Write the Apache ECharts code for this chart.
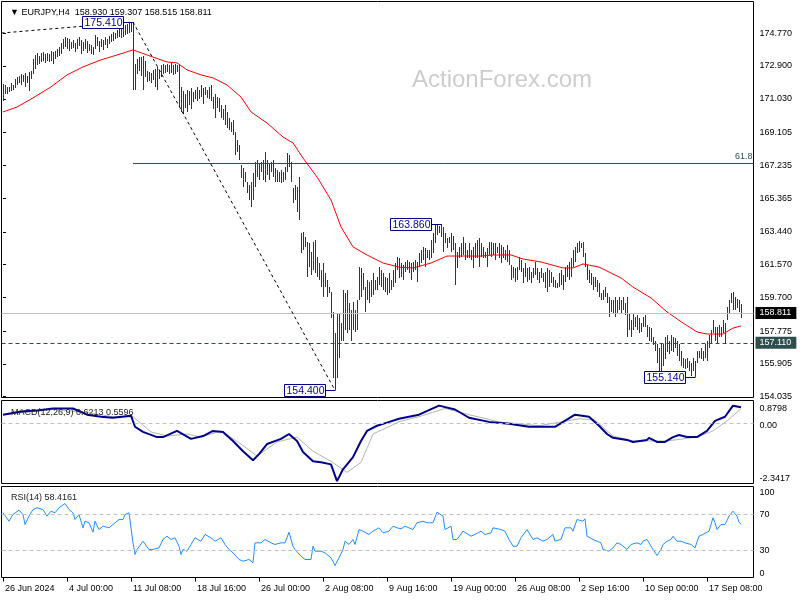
<!DOCTYPE html>
<html><head><meta charset="utf-8">
<script src="https://cdn.jsdelivr.net/npm/echarts@6/dist/echarts.min.js"></script>
<style>html,body{margin:0;padding:0;background:#fff}#c{width:800px;height:600px}</style>
</head><body><div id="c"></div>
<script>
// ---------------- DATA ----------------
const highs = [
171.85,171.79,171.68,171.73,171.91,171.79,172.14,172.25,172.31,172.42,
172.37,172.48,172.31,172.54,172.60,173.28,173.51,173.62,173.45,173.62,
173.68,173.57,173.62,173.57,173.74,173.68,173.74,173.85,173.97,174.20,
174.43,174.54,174.48,174.43,174.26,174.37,174.20,174.43,174.54,174.37,
174.26,174.43,174.31,174.14,174.08,173.97,174.66,174.54,174.31,174.43,
174.37,174.54,174.43,174.60,174.71,174.83,174.77,174.94,175.00,175.11,
175.17,175.23,175.29,175.34,175.40,175.41,172.99,173.28,173.40,173.40,
173.45,173.17,172.60,172.54,172.48,172.65,172.71,172.83,172.65,172.94,
172.99,172.94,172.99,172.94,173.05,172.94,172.99,172.94,172.99,171.68,
171.45,171.28,171.56,171.45,171.62,171.39,171.56,171.68,171.56,171.79,
171.62,171.68,171.56,171.73,171.79,171.11,171.28,171.16,171.05,170.65,
170.42,170.65,170.25,169.96,169.73,169.84,169.16,168.70,168.41,167.27,
167.10,166.87,166.29,166.12,166.29,166.81,167.44,167.55,167.38,167.44,
167.55,168.01,167.55,167.38,167.44,167.55,167.10,166.98,166.87,166.98,
166.87,167.15,167.96,167.84,167.44,165.95,166.12,166.01,166.58,163.37,
163.43,163.14,162.86,162.80,162.29,162.86,162.97,161.99,161.65,161.25,
161.65,161.08,160.68,160.28,159.99,158.85,157.65,158.79,158.79,158.22,
160.11,159.93,160.11,159.36,158.96,159.42,158.96,159.53,161.42,161.37,
161.08,160.28,160.68,160.57,160.68,161.08,160.68,160.85,161.42,161.25,
161.08,160.85,160.79,161.08,160.68,161.25,161.65,161.99,161.94,161.65,
161.54,161.71,161.82,161.71,161.65,161.71,161.82,161.71,162.23,162.40,
162.57,162.51,162.40,162.40,162.97,163.37,163.83,163.83,163.77,163.86,
163.72,163.37,163.08,163.14,163.37,163.20,162.80,162.29,162.57,162.80,
163.14,162.80,162.40,162.80,162.40,162.57,162.80,162.97,163.08,162.80,
162.57,162.29,162.51,162.86,162.86,162.80,162.80,162.57,162.80,162.69,
162.57,162.40,162.69,162.40,161.54,161.42,161.37,161.42,161.99,161.82,
161.37,161.65,161.37,161.42,161.14,161.37,161.71,161.37,161.14,161.37,
161.08,161.14,161.37,161.25,161.14,160.85,160.68,160.51,161.08,161.25,
160.97,161.42,161.54,161.71,161.94,162.40,162.57,162.80,162.91,162.80,
162.86,162.23,161.54,161.25,161.08,160.85,160.85,160.68,160.51,159.93,
160.11,160.28,159.93,159.70,159.53,159.53,159.70,159.53,159.70,159.53,
159.70,159.36,159.70,158.79,158.39,158.79,158.56,158.68,158.50,158.22,
158.56,158.68,158.10,157.99,157.93,157.42,157.24,157.07,156.84,157.07,
157.07,157.42,157.53,157.24,157.53,157.42,157.36,157.24,157.07,156.67,
156.27,156.21,156.27,156.10,155.93,156.27,156.10,156.67,156.67,156.84,
156.67,157.07,157.24,157.53,157.82,158.39,157.99,157.99,158.10,157.99,
158.39,158.22,159.13,159.53,159.93,159.99,159.70,159.59,159.53,159.31
];
const lows = [
170.88,171.33,171.28,171.39,171.45,171.51,171.62,171.79,171.91,171.79,
171.96,171.68,171.91,171.45,172.14,172.42,172.71,172.94,172.99,173.11,
173.17,173.05,173.17,173.11,173.17,172.99,173.28,173.40,173.45,173.57,
173.85,173.97,173.85,173.74,173.85,173.91,173.68,173.85,174.03,173.57,
173.74,173.85,173.62,173.74,173.57,173.51,173.85,174.03,173.68,173.97,
173.80,174.08,173.91,174.14,174.26,174.31,174.43,174.48,174.54,174.48,
174.54,174.66,174.71,174.77,174.83,171.56,171.56,172.42,172.60,172.31,
171.56,172.25,171.96,172.02,171.91,172.08,171.68,171.56,172.14,172.25,
172.42,172.48,172.54,172.42,172.48,172.37,172.42,172.54,170.59,170.30,
170.19,170.53,170.30,170.65,170.42,170.82,170.99,170.88,170.99,171.11,
170.76,171.22,171.05,170.99,170.88,170.42,169.96,170.53,170.30,169.96,
169.84,169.56,169.39,169.27,169.16,168.99,167.84,168.01,167.55,166.52,
166.01,166.29,165.66,165.26,164.86,165.26,166.01,166.58,166.41,166.87,
166.41,166.29,166.69,166.41,166.87,166.58,166.29,166.29,166.29,166.23,
166.29,166.41,166.87,167.15,166.29,165.09,165.26,164.58,164.12,162.23,
162.40,162.57,160.85,161.42,160.97,161.25,161.08,160.85,160.68,160.28,
159.70,160.28,159.70,159.93,158.50,155.12,154.40,155.12,156.27,157.24,
157.24,157.82,157.65,157.82,157.24,157.82,157.70,157.82,159.53,159.70,
160.11,158.85,159.53,159.36,159.70,159.82,160.11,160.11,160.39,160.28,
160.11,159.99,159.82,159.93,160.11,160.28,160.51,161.25,160.79,160.85,
160.68,161.14,161.25,161.08,160.68,161.14,161.25,160.57,161.42,161.65,
161.82,161.42,161.94,161.82,161.94,162.23,162.80,163.26,163.37,163.14,
162.29,162.80,162.51,162.80,162.29,162.40,160.39,161.37,161.94,161.99,
162.11,161.82,161.94,161.94,161.82,161.37,161.94,161.94,161.42,161.99,
161.94,161.94,161.42,162.11,161.99,162.11,161.82,162.23,161.94,161.65,
161.94,161.82,161.71,161.54,160.68,160.79,160.57,160.68,161.25,161.14,
160.51,160.85,160.57,160.68,160.51,160.79,160.97,160.68,160.51,160.79,
160.57,160.22,159.99,160.28,160.51,160.28,160.22,160.22,160.28,160.39,
160.11,160.57,160.85,160.68,160.85,161.42,161.71,162.23,162.29,162.51,
161.99,161.42,160.68,160.51,160.39,160.11,160.28,159.99,159.70,159.53,
159.53,159.70,159.36,158.56,158.85,158.79,158.56,158.79,158.96,158.79,
158.96,158.68,157.42,157.82,157.42,157.82,157.99,157.82,157.65,157.70,
157.99,157.99,157.42,157.24,157.13,156.96,156.67,155.98,155.52,155.41,
155.81,156.21,156.56,156.50,156.67,156.56,156.84,156.38,156.10,155.81,
155.70,155.64,155.70,155.52,155.24,155.52,155.14,155.98,156.27,156.21,
156.10,156.27,156.10,156.79,157.07,157.65,157.24,157.07,157.42,157.42,
157.65,157.07,158.39,158.79,159.36,158.96,158.96,159.08,158.85,158.52
];
const smaPoints = [[0,170.28],[7,170.56],[15,171.08],[24,171.71],[32,172.39],[40,172.85],[49,173.25],[57,173.53],[65,173.82],[72,173.53],[82,173.13],[87,173.08],[92,172.68],[99,172.39],[105,172.22],[112,171.82],[119,171.13],[124,170.28],[132,169.65],[140,168.85],[145,168.51],[150,167.65],[157,166.57],[164,165.26],[169,163.72],[175,162.58],[182,162.12],[190,161.66],[198,161.43],[205,161.38],[214,161.66],[222,162.06],[230,162.06],[239,162.06],[245,162.12],[254,162.12],[260,161.89],[269,161.72],[280,161.38],[285,161.38],[290,161.61],[298,161.43],[309,160.81],[315,160.29],[324,159.67],[332,158.87],[340,158.24],[347,157.73],[352,157.61],[360,157.61],[365,157.95],[369,158.07]];
const macdPoints = [[0,0.33],[9,0.45],[17,0.49],[25,0.57],[35,0.57],[42,0.33],[49,0.25],[55,0.21],[64,0.29],[66,-0.14],[70,-0.34],[77,-0.54],[80,-0.54],[87,-0.30],[94,-0.61],[100,-0.50],[105,-0.30],[110,-0.34],[115,-0.69],[120,-1.09],[125,-1.44],[128,-1.20],[132,-0.81],[139,-0.61],[143,-0.42],[147,-0.69],[150,-1.12],[155,-1.48],[159,-1.52],[164,-1.60],[167,-2.25],[170,-1.79],[175,-1.32],[179,-0.69],[182,-0.30],[187,-0.10],[192,0.02],[198,0.17],[208,0.33],[218,0.68],[226,0.53],[233,0.21],[243,0.05],[253,-0.02],[263,-0.14],[276,-0.14],[286,0.33],[293,0.25],[298,-0.10],[302,-0.42],[305,-0.57],[312,-0.65],[315,-0.73],[322,-0.65],[323,-0.57],[327,-0.73],[331,-0.73],[335,-0.54],[338,-0.46],[342,-0.54],[347,-0.54],[352,-0.30],[356,0.09],[361,0.25],[365,0.68],[369,0.62]];
const signalPoints = [[0,0.33],[25,0.53],[42,0.41],[55,0.25],[65,0.25],[74,-0.34],[82,-0.50],[92,-0.42],[99,-0.54],[109,-0.30],[119,-0.81],[127,-1.28],[137,-0.73],[147,-0.54],[155,-1.09],[164,-1.48],[172,-1.91],[179,-1.52],[185,-0.42],[194,-0.10],[198,0.06],[208,0.25],[221,0.57],[233,0.33],[248,0.05],[268,-0.10],[288,0.17],[296,0.13],[298,-0.02],[305,-0.50],[315,-0.69],[332,-0.69],[347,-0.54],[355,-0.30],[362,0.09],[369,0.56]];
const rsiPoints = [[0,71.1],[3,61.9],[5,69.2],[8,74.0],[10,69.2],[11,58.2],[13,67.4],[15,74.7],[17,76.6],[20,74.7],[22,67.4],[24,72.9],[26,71.1],[28,76.6],[31,81.3],[33,74.7],[35,71.1],[36,63.7],[38,69.2],[40,54.6],[41,61.9],[43,60.1],[45,49.8],[46,61.9],[48,52.7],[50,56.4],[53,54.6],[55,58.2],[58,63.7],[60,63.7],[61,69.2],[63,71.1],[64,71.1],[65,38.1],[66,25.3],[67,30.8],[70,39.9],[73,30.8],[75,30.8],[78,32.6],[80,41.8],[82,45.4],[84,41.8],[86,43.6],[88,34.4],[89,25.3],[90,30.8],[92,28.9],[94,36.3],[96,43.6],[99,39.9],[101,47.3],[104,43.6],[106,39.9],[109,43.6],[111,36.3],[113,30.8],[115,27.1],[118,19.8],[120,17.9],[123,19.8],[125,16.2],[126,38.1],[129,38.1],[131,41.8],[134,38.1],[136,36.3],[139,38.1],[141,38.1],[143,49.8],[145,34.4],[146,30.8],[149,23.4],[151,19.8],[154,19.8],[155,34.4],[156,28.9],[159,28.9],[161,27.1],[164,21.6],[166,13.2],[168,21.6],[170,30.8],[171,39.9],[173,36.3],[175,41.8],[176,36.3],[178,52.7],[180,50.9],[183,47.3],[185,50.9],[188,54.6],[190,49.1],[193,50.9],[195,56.4],[197,54.6],[199,53.5],[201,56.4],[205,52.7],[207,60.1],[210,61.9],[212,60.1],[215,60.1],[217,71.8],[220,67.4],[221,52.7],[224,56.4],[225,41.8],[227,41.8],[230,50.9],[231,52.7],[234,45.4],[236,47.3],[239,50.9],[241,47.3],[244,49.1],[245,54.6],[249,52.7],[251,50.9],[253,41.8],[255,34.4],[257,34.4],[259,43.6],[262,52.7],[265,41.8],[267,43.6],[270,39.9],[272,41.8],[275,47.3],[276,39.9],[279,41.8],[281,54.6],[284,54.6],[285,50.9],[287,63.7],[290,61.9],[291,64.5],[292,45.4],[295,41.8],[297,39.9],[299,38.1],[300,30.8],[303,28.9],[305,32.6],[307,38.1],[309,36.3],[310,38.1],[312,30.8],[314,36.3],[315,34.4],[317,38.1],[319,36.3],[320,39.9],[322,41.8],[324,34.4],[325,30.8],[327,24.2],[329,30.8],[330,36.3],[332,39.9],[334,41.8],[335,45.4],[337,39.9],[339,39.9],[341,38.1],[344,36.3],[346,32.6],[348,45.4],[350,47.3],[353,50.9],[355,65.6],[356,60.1],[357,52.7],[359,58.2],[361,58.2],[363,67.4],[365,72.9],[367,67.4],[368,61.0],[369,58.4]];
const timeLabels = ["26 Jun 2024","4 Jul 00:00","11 Jul 08:00","18 Jul 16:00","26 Jul 00:00","2 Aug 08:00","9 Aug 16:00","19 Aug 00:00","26 Aug 08:00","2 Sep 16:00","10 Sep 00:00","17 Sep 08:00"];
const timeLabelIdx = [0,32,64,96,128,160,192,224,256,288,320,352];
const priceTicks = [154.035,155.905,157.775,159.700,161.570,163.440,165.365,167.235,169.105,171.030,172.900,174.770];
const macdTicks = [0.8798, 0, -2.3417];
const rsiTicks = [100, 70, 30, 0];
const rsiLevels = [70, 30];
const pivots = [[65,175.41],[166,154.40],[219,163.86],[346,155.14]];
const fibLevel = 167.38, fibStartIdx = 65, fibText = "61.8";
const trendLines = [[[-0.75,174.78],[65,175.41]],[[65,175.41],[166,154.40]]];
const lastPrice = 158.811, supportLevel = 157.110;
const headerText = "\u25BC EURJPY,H4  158.930 159.307 158.515 158.811";
const macdText = "MACD(12,26,9) 0.6213 0.5596";
const rsiText = "RSI(14) 58.4161";
const watermark = "ActionForex.com";

// --------------- FONT -----------------
function hasFont(name){
  const c=document.createElement('canvas').getContext('2d');
  const s='174.770 17 Sep 08:00 MACD';
  c.font='20px monospace'; const a=c.measureText(s).width;
  c.font="20px '"+name+"', monospace"; const b=c.measureText(s).width;
  return Math.abs(a-b)>0.5;
}
const narrow = hasFont('Liberation Sans Narrow');
const FONT = narrow ? "'Liberation Sans Narrow'" : "'Liberation Sans'";
const FS = narrow ? 11 : 9;
const BOXFS = narrow ? 12 : 10.5;

const BAR_COLOR = '#143d57';
const XMIN = -0.75, XMAX = 375.25;

const chart = echarts.init(document.getElementById('c'), null, {renderer:'canvas'});

const grids = [
  {left:1.5, top:1.5, width:752, height:396},
  {left:1.5, top:400.5, width:752, height:83},
  {left:1.5, top:486.5, width:752, height:91}
].map(g=>Object.assign(g,{show:true, borderColor:'#000', borderWidth:1}));

const baseX = (gi, showLabels)=>({
  type:'value', gridIndex:gi, min:XMIN, max:XMAX,
  axisLine:{show:false}, splitLine:{show:false},
  axisTick: showLabels ? {show:true, customValues:timeLabelIdx, length:4, inside:false, lineStyle:{color:'#000'}} : {show:false},
  axisLabel: showLabels ? {show:true, customValues:timeLabelIdx, align:'left', margin:7, color:'#000', fontSize:FS, fontFamily:FONT,
     padding:[0,0,0,2], formatter:v=>timeLabels[timeLabelIdx.indexOf(Math.round(v))] } : {show:false}
});

function richFor(padTop, padMid, padBottom){
  return {
    t:{padding:[padTop,0,0,0], fontSize:FS, fontFamily:FONT, color:'#000'},
    b:{padding:[0,0,padBottom,0], fontSize:FS, fontFamily:FONT, color:'#000'},
    m:{padding:[padMid,0,0,0], fontSize:FS, fontFamily:FONT, color:'#000'}
  };
}

const option = {
  animation:false,
  backgroundColor:'#fff',
  grid: grids,
  title:[
    {text:headerText, left:5, top:3, textStyle:{fontSize:FS, fontFamily:FONT, fontWeight:'normal', color:'#000'}},
    {text:macdText, left:6, top:403, textStyle:{fontSize:FS, fontFamily:FONT, fontWeight:'normal', color:'#222'}},
    {text:rsiText, left:6, top:488, textStyle:{fontSize:FS, fontFamily:FONT, fontWeight:'normal', color:'#222'}}
  ],
  graphic:[{type:'text', left:412, top:68, z:1, silent:true,
    style:{text:watermark, fill:'#cdcdcd', font:"24px 'Liberation Sans'"}}],
  xAxis:[baseX(0,false), baseX(1,false), baseX(2,true)],
  yAxis:[
    {type:'value', gridIndex:0, position:'right', min:153.99, max:176.58,
     axisLine:{show:false}, splitLine:{show:false},
     axisTick:{show:true, customValues:priceTicks, length:3, lineStyle:{color:'#000'}},
     axisLabel:{customValues:priceTicks, formatter:v=>v.toFixed(3), color:'#000', fontSize:FS, fontFamily:FONT, margin:6}},
    {type:'value', gridIndex:1, position:'right', min:-2.3417, max:0.8798,
     axisLine:{show:false}, splitLine:{show:false},
     axisTick:{show:false},
     axisLabel:{customValues:macdTicks, margin:6, rich:richFor(17,4,9),
       formatter:v=>{ if(Math.abs(v-macdTicks[0])<1e-6) return '{t|'+v.toFixed(4)+'}';
                      if(Math.abs(v-macdTicks[2])<1e-6) return '{b|'+v.toFixed(4)+'}';
                      return '{m|'+v.toFixed(2)+'}'; }}},
    {type:'value', gridIndex:2, position:'right', min:0, max:100,
     axisLine:{show:false}, splitLine:{show:false},
     axisTick:{show:false},
     axisLabel:{customValues:rsiTicks, margin:6, rich:richFor(13,1,8),
       formatter:v=>{ if(v===100) return '{t|100}'; if(v===0) return '{b|0}'; return '{m|'+v+'}'; }}}
  ],
  series:[
    {type:'custom', name:'bars', xAxisIndex:0, yAxisIndex:0, z:3, clip:true,
     data: highs.map((h,i)=>[i,h,lows[i]]),
     encode:{x:0, y:[1,2]},
     renderItem:(params, api)=>{
       const i=api.value(0);
       const p1=api.coord([i, api.value(1)]), p2=api.coord([i, api.value(2)]);
       const x=Math.floor(p1[0]+0.01)+0.5;
       let y1=Math.round(p1[1]), y2=Math.round(p2[1]); if(y2-y1<1) y2=y1+1;
       return {type:'line', shape:{x1:x,y1:y1,x2:x,y2:y2}, style:{stroke:BAR_COLOR, lineWidth:1}};
     }},
    {type:'line', name:'sma', xAxisIndex:0, yAxisIndex:0, z:4, data:smaPoints, showSymbol:false, symbol:'none',
     lineStyle:{color:'#ff0000', width:1}},
    {type:'line', name:'annot', xAxisIndex:0, yAxisIndex:0, z:2, data:[], symbol:'none',
     markLine:{symbol:['none','none'], silent:true, animation:false,
       data:[
         {yAxis:lastPrice, lineStyle:{color:'#c0c0c0', type:'solid', width:1},
          label:{show:true, position:'end', distance:2, formatter:lastPrice.toFixed(3), backgroundColor:'#000', color:'#fff',
                 padding:[2,5,1,4], fontSize:FS, fontFamily:FONT}},
         {yAxis:supportLevel, lineStyle:{color:'#2f4f4f', type:[4,3], width:1},
          label:{show:true, position:'end', distance:2, formatter:supportLevel.toFixed(3), backgroundColor:'#2f4f4f', color:'#fff',
                 padding:[2,5,1,4], fontSize:FS, fontFamily:FONT}},
         [{coord:[fibStartIdx, fibLevel], lineStyle:{color:'#2f4f4f', type:'solid', width:1},
           label:{show:true, position:'insideEndTop', formatter:fibText, color:'#2f4f4f', fontSize:FS, fontFamily:FONT, distance:[1,2]}},
          {coord:[XMAX, fibLevel]}],
         [{coord:trendLines[0][0], lineStyle:{color:'#000', type:[3,3], width:1}, label:{show:false}}, {coord:trendLines[0][1]}],
         [{coord:trendLines[1][0], lineStyle:{color:'#000', type:[3,3], width:1}, label:{show:false}}, {coord:trendLines[1][1]}]
       ]}},
    {type:'custom', name:'pivots', xAxisIndex:0, yAxisIndex:0, z:10, clip:false,
     data:pivots, encode:{x:0,y:1},
     renderItem:(params, api)=>{
       const v=api.value(1);
       const p=api.coord([api.value(0), v]);
       const w=41, h=12, gap=10;
       const px=Math.floor(p[0]+0.01); const yc=Math.round(p[1]);
       const x1=px-gap-w;
       return {type:'group', children:[
         {type:'line', shape:{x1:x1+w, y1:yc+0.5, x2:px+0.5, y2:yc+0.5}, style:{stroke:'#000080', lineWidth:1}},
         {type:'rect', shape:{x:x1+0.5, y:yc-6+0.5, width:w, height:h}, style:{fill:'#fff', stroke:'#000080', lineWidth:1}},
         {type:'text', x:x1+w/2+1, y:yc+1, style:{text:v.toFixed(3), fill:'#0000a0', fontSize:BOXFS, fontFamily:FONT, align:'center', verticalAlign:'middle'}}
       ]};
     }},
    {type:'line', name:'signal', xAxisIndex:1, yAxisIndex:1, data:signalPoints, symbol:'none', z:3,
     lineStyle:{color:'#b4b4b4', width:1},
     markLine:{symbol:['none','none'], silent:true, label:{show:false},
       data:[{yAxis:0, lineStyle:{color:'#c0c0c0', type:[4,3], width:1}}]}},
    {type:'line', name:'macd', xAxisIndex:1, yAxisIndex:1, data:macdPoints, symbol:'none', z:4,
     lineStyle:{color:'#00008b', width:2}},
    {type:'line', name:'rsi', xAxisIndex:2, yAxisIndex:2, data:rsiPoints, symbol:'none', z:4,
     lineStyle:{color:'#1e90ff', width:1},
     markLine:{symbol:['none','none'], silent:true, label:{show:false},
       data: rsiLevels.map(l=>({yAxis:l, lineStyle:{color:'#c0c0c0', type:[4,3], width:1}}))}}
  ]
};
chart.setOption(option);
</script>
</body></html>
